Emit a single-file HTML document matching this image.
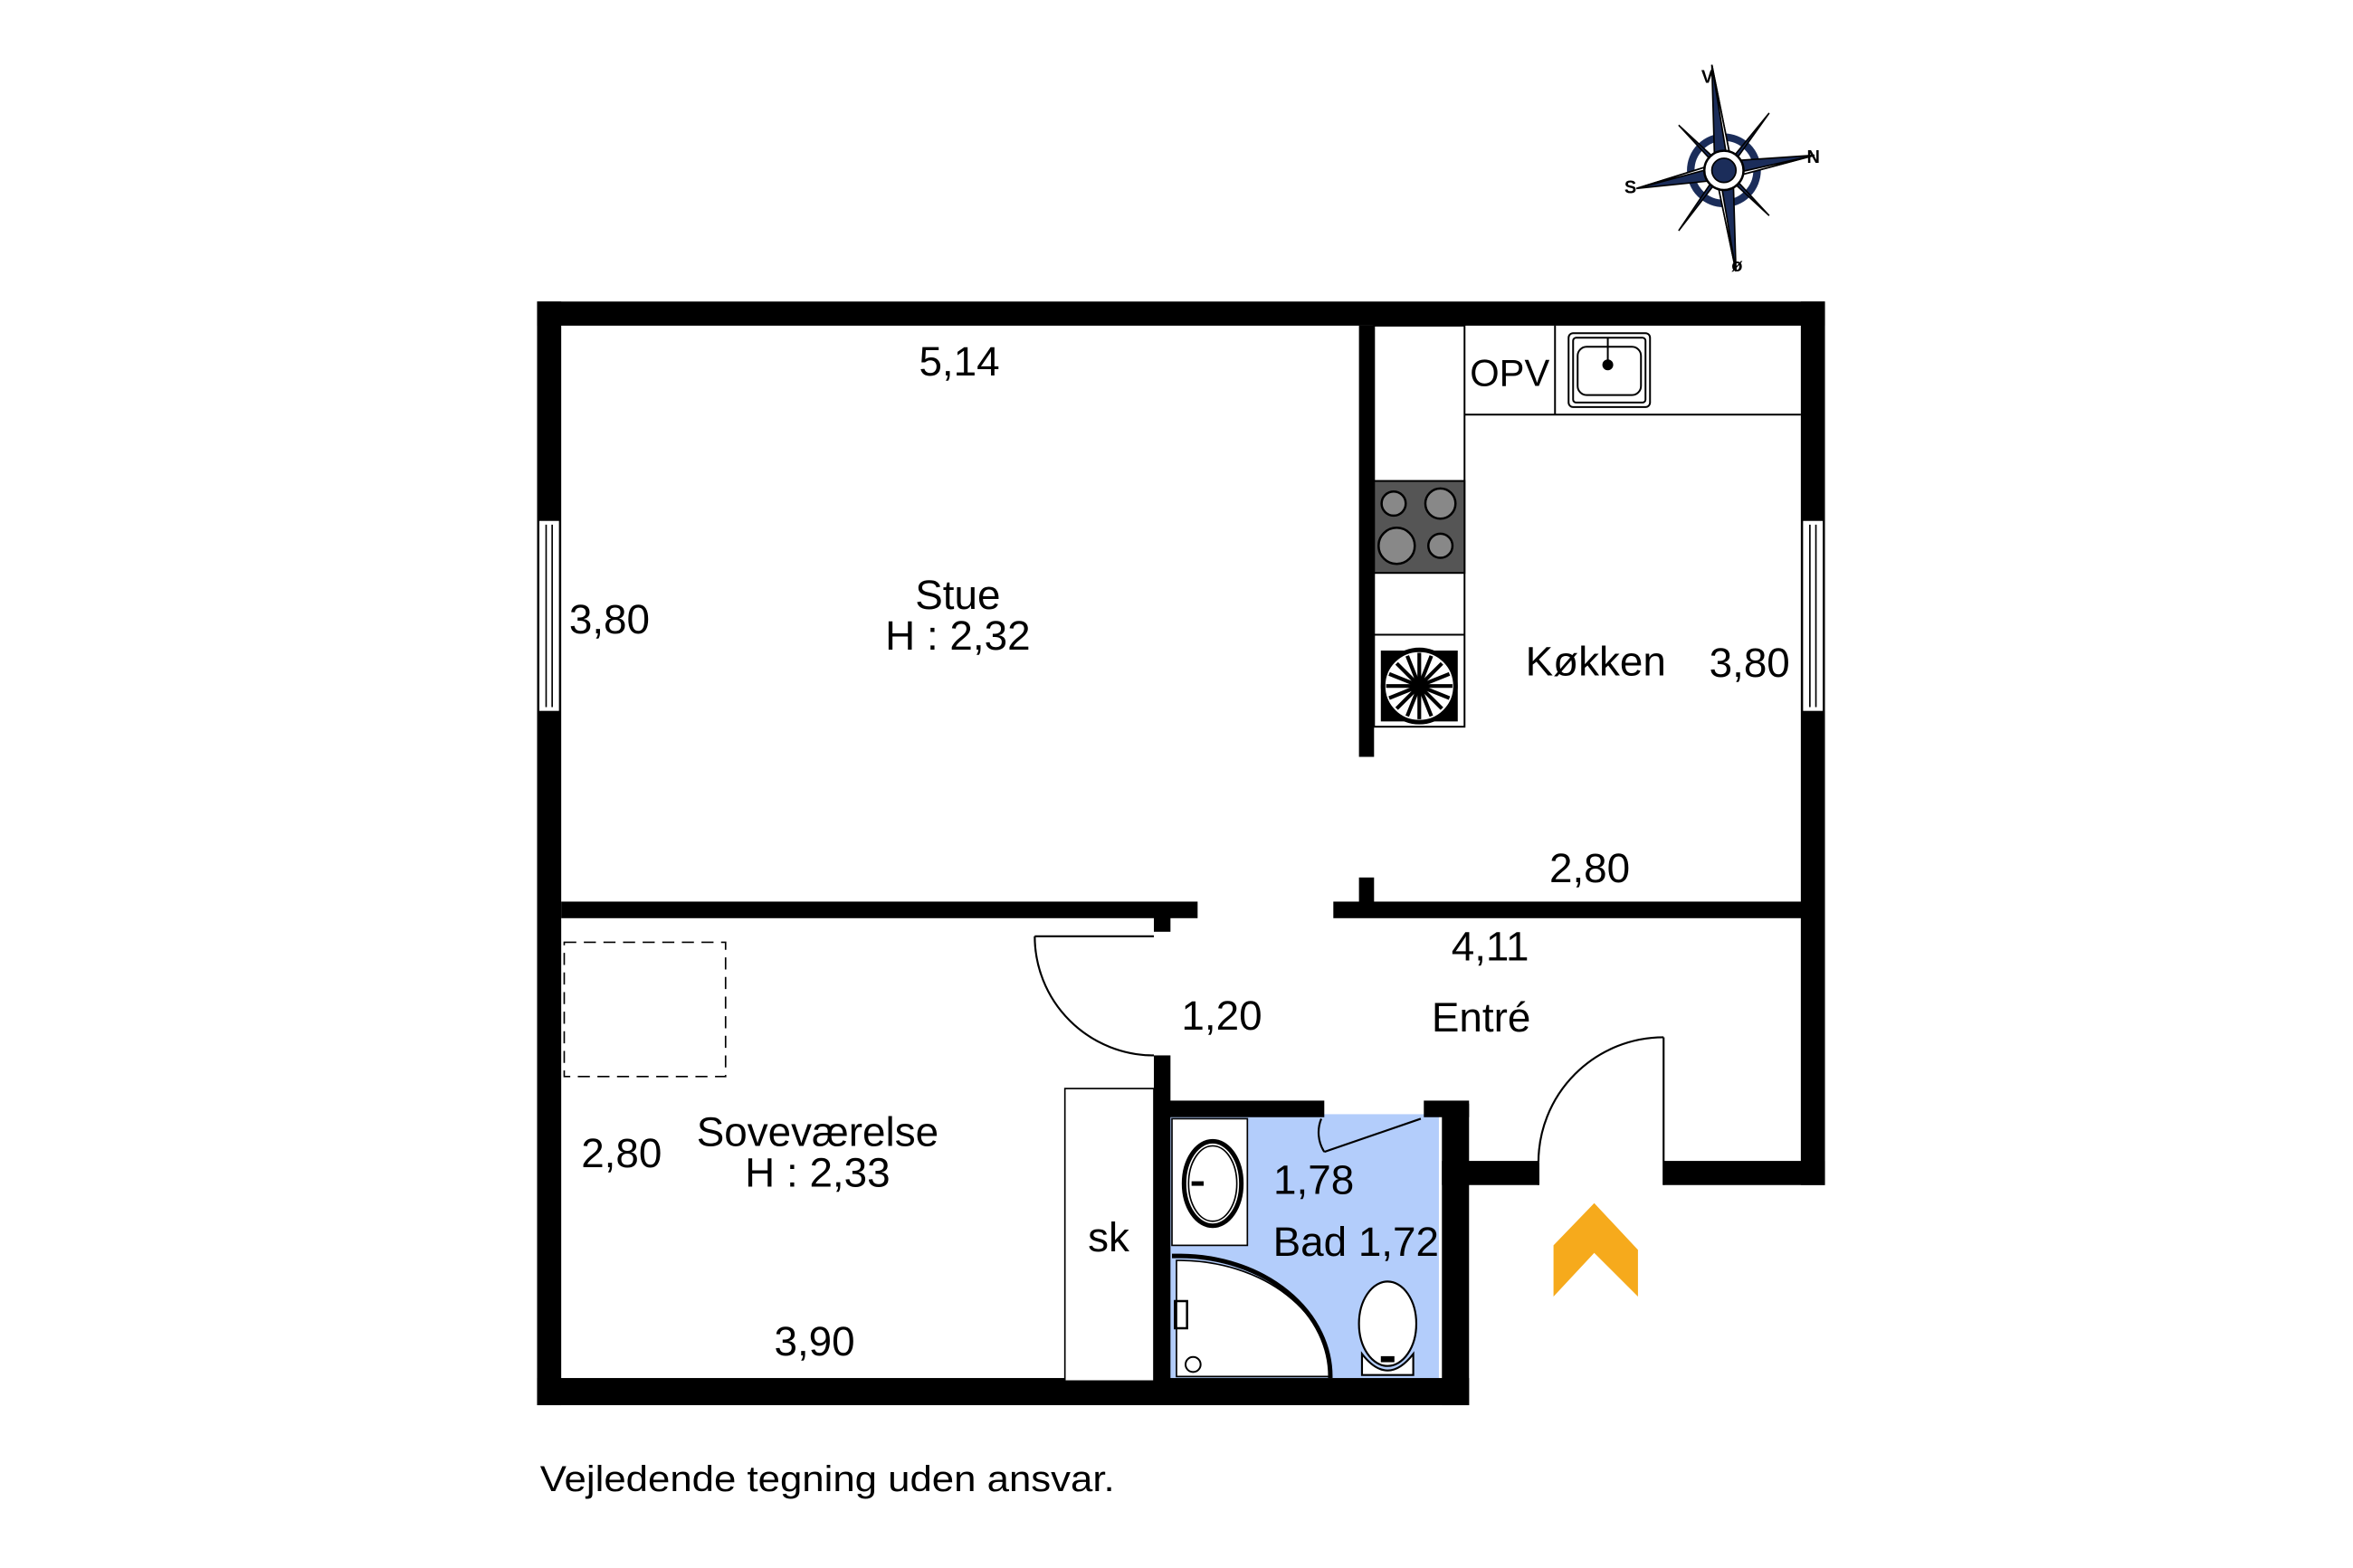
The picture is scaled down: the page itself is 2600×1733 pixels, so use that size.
<!DOCTYPE html>
<html><head><meta charset="utf-8"><style>
html,body{margin:0;padding:0;background:#fff;}
svg{display:block;}
text{font-family:"Liberation Sans",Arial,sans-serif;fill:#000;}
</style></head><body>
<svg width="2600" height="1733" viewBox="0 0 1560 1040" xmlns="http://www.w3.org/2000/svg">
<rect width="1560" height="1040" fill="#fff"/>
<g transform="translate(-2,0)">
<!-- bath fill -->
<rect x="776" y="739" width="180" height="175" fill="#b3cdfb"/>
<rect x="779" y="742" width="50" height="84" fill="#fff" stroke="#000" stroke-width="1"/>
<!-- walls -->
<g fill="#000">
<rect x="358" y="200" width="854" height="16"/>
<rect x="358" y="200" width="16" height="732"/>
<rect x="1196" y="200" width="16" height="586"/>
<rect x="358" y="914" width="618" height="18"/>
<rect x="958" y="770" width="64" height="16"/>
<rect x="1105" y="770" width="107" height="16"/>
<rect x="958" y="732" width="18" height="200"/>
<rect x="903" y="216" width="10" height="286"/>
<rect x="903" y="582" width="10" height="24"/>
<rect x="374" y="598" width="422" height="11"/>
<rect x="886" y="598" width="312" height="11"/>
<rect x="767" y="604" width="11" height="14"/>
<rect x="767" y="700" width="11" height="216"/>
<rect x="767" y="730" width="113" height="11"/>
<rect x="946" y="730" width="30" height="11"/>
</g>
<!-- windows -->
<g fill="#fff" stroke="#000" stroke-width="1">
<rect x="359" y="345" width="14" height="127"/>
<line x1="364" y1="348" x2="364" y2="469"/><line x1="368" y1="348" x2="368" y2="469"/>
<rect x="1197" y="345" width="14" height="127"/>
<line x1="1202" y1="348" x2="1202" y2="469"/><line x1="1206" y1="348" x2="1206" y2="469"/>
</g>
<!-- kitchen counters -->
<g stroke="#000" stroke-width="1.2" fill="none">
<rect x="913" y="216" width="60" height="266" fill="#fff"/>
<polyline points="973,275 1196,275"/>
<line x1="1033" y1="216" x2="1033" y2="275"/>
<line x1="913" y1="421" x2="973" y2="421"/>
<rect x="913" y="319" width="60" height="61" fill="#555"/>
<circle cx="926" cy="334" r="8" fill="#888" stroke-width="1.5"/>
<circle cx="957" cy="334" r="10" fill="#888" stroke-width="1.5"/>
<circle cx="928" cy="362" r="12" fill="#888" stroke-width="1.5"/>
<circle cx="957" cy="362" r="8" fill="#888" stroke-width="1.5"/>
<rect x="1042" y="221" width="54" height="49" rx="3" fill="#fff"/>
<rect x="1045" y="224" width="48" height="43" rx="2"/>
<rect x="1048" y="230" width="42" height="32" rx="6"/>
<line x1="1068" y1="224" x2="1068" y2="240"/><circle cx="1068" cy="242" r="3" fill="#000"/>
</g>
<g transform="translate(943,455)" stroke="#000" fill="none">
<rect x="-25" y="-23" width="50" height="46" fill="#000"/>
<circle r="24" fill="#fff" stroke-width="3"/>
<g stroke-width="2.5">
<line x1="-22" y1="0" x2="22" y2="0"/><line x1="0" y1="-22" x2="0" y2="22"/>
<line x1="-15" y1="-15" x2="15" y2="15"/><line x1="-15" y1="15" x2="15" y2="-15"/>
<line x1="-8" y1="-20" x2="8" y2="20"/><line x1="8" y1="-20" x2="-8" y2="20"/>
<line x1="-20" y1="-8" x2="20" y2="8"/><line x1="-20" y1="8" x2="20" y2="-8"/>
</g>
<circle r="5" fill="#000"/>
</g>
<!-- bedroom dashed rect -->
<rect x="376" y="625" width="107" height="89" fill="none" stroke="#000" stroke-width="1" stroke-dasharray="8,5"/>
<!-- wardrobe -->
<rect x="708" y="722" width="59" height="194" fill="#fff" stroke="#000" stroke-width="1"/>
<!-- doors -->
<g fill="none" stroke="#000" stroke-width="1.3">
<line x1="688" y1="621" x2="767" y2="621"/>
<path d="M688,621 A79,79 0 0 0 767,700"/>
<line x1="1105" y1="688" x2="1105" y2="786"/>
<path d="M1105,688 A83,83 0 0 0 1022,771"/>
<line x1="1022" y1="771" x2="1022" y2="786"/>
<line x1="944" y1="742" x2="880" y2="764"/>
<path d="M880,764 A24,24 0 0 1 878,742"/>
</g>
<!-- bath fixtures -->
<g fill="none" stroke="#000">
<ellipse cx="806" cy="785" rx="19" ry="28" stroke-width="3"/>
<ellipse cx="806" cy="785" rx="16" ry="25" fill="#fff" stroke-width="1"/>
<line x1="792" y1="785" x2="800" y2="785" stroke-width="3"/>
<path d="M782,836 L782,913 L884,913 A100,77 0 0 0 785,836 Z" stroke-width="1" fill="#fff"/>
<path d="M779,833 L785,833 A100,80 0 0 1 884,914" stroke-width="3"/>
<circle cx="793" cy="905" r="5" stroke-width="1.2"/>
<path d="M781,863 h8 v18 h-8 z" stroke-width="1.5"/>
<ellipse cx="922" cy="878" rx="19" ry="28" fill="#fff" stroke-width="1.3"/>
<path d="M905,898 Q922,920 939,898 L939,912 L905,912 Z" fill="#fff" stroke-width="1.3"/>
<rect x="918" y="900" width="8" height="3" fill="#000"/>
</g>
<!-- chevron -->
<polygon points="1059,798 1088,829 1088,860 1059,831 1032,860 1032,826" fill="#F6AA1C"/>
<!-- compass -->
<g transform="translate(1145,113)">
<g fill="#1b2d5a" stroke="#000" stroke-width="1">
<circle r="22" fill="none" stroke="#1b2d5a" stroke-width="5"/>
<polygon points="-30,-30 -5,-3 -3,-5"/><polygon points="30,-38 5,-3 3,-5"/>
<polygon points="30,30 5,3 3,5"/><polygon points="-30,40 -5,3 -3,5"/>
<polygon points="-8,-70 -6,0 6,0" fill="#1b2d5a"/><polygon points="-8,-70 6,0 3,-2" fill="#fff"/>
<polygon points="60,-10 0,-6 0,6" fill="#1b2d5a"/><polygon points="60,-10 0,6 2,3" fill="#fff"/>
<polygon points="8,67 6,0 -6,0" fill="#1b2d5a"/><polygon points="8,67 -6,0 -3,2" fill="#fff"/>
<polygon points="-58,12 0,6 0,-6" fill="#1b2d5a"/><polygon points="-58,12 0,-6 -2,-3" fill="#fff"/>
<circle r="13" fill="#fff" stroke="#000" stroke-width="1.5"/>
<circle r="8" fill="#1b2d5a"/>
</g>
</g>
<g font-weight="bold" font-size="12">
<text x="1130" y="55">V</text><text x="1200" y="108">N</text>
<text x="1079" y="128">S</text><text x="1150" y="180">ø</text>
</g>
<!-- labels -->
<g font-size="27.5" text-anchor="middle">
<text x="638" y="249">5,14</text>
<text x="406" y="420">3,80</text>
<text x="637" y="404">Stue</text>
<text x="637" y="431">H : 2,32</text>
<text x="1060" y="448">Køkken</text>
<text x="1162" y="449">3,80</text>
<text x="1056" y="585">2,80</text>
<text x="990" y="637">4,11</text>
<text x="812" y="683">1,20</text>
<text x="984" y="684">Entré</text>
<text x="414" y="774">2,80</text>
<text x="544" y="760">Soveværelse</text>
<text x="544" y="787">H : 2,33</text>
<text x="737" y="830">sk</text>
<text x="873" y="792">1,78</text>
<text x="901" y="833">Bad 1,72</text>
<text x="542" y="899">3,90</text>
<text x="1003" y="256" font-size="25">OPV</text>
</g>
<text x="360" y="989" font-size="24" textLength="381" lengthAdjust="spacingAndGlyphs">Vejledende tegning uden ansvar.</text>
</g>
</svg>
</body></html>
